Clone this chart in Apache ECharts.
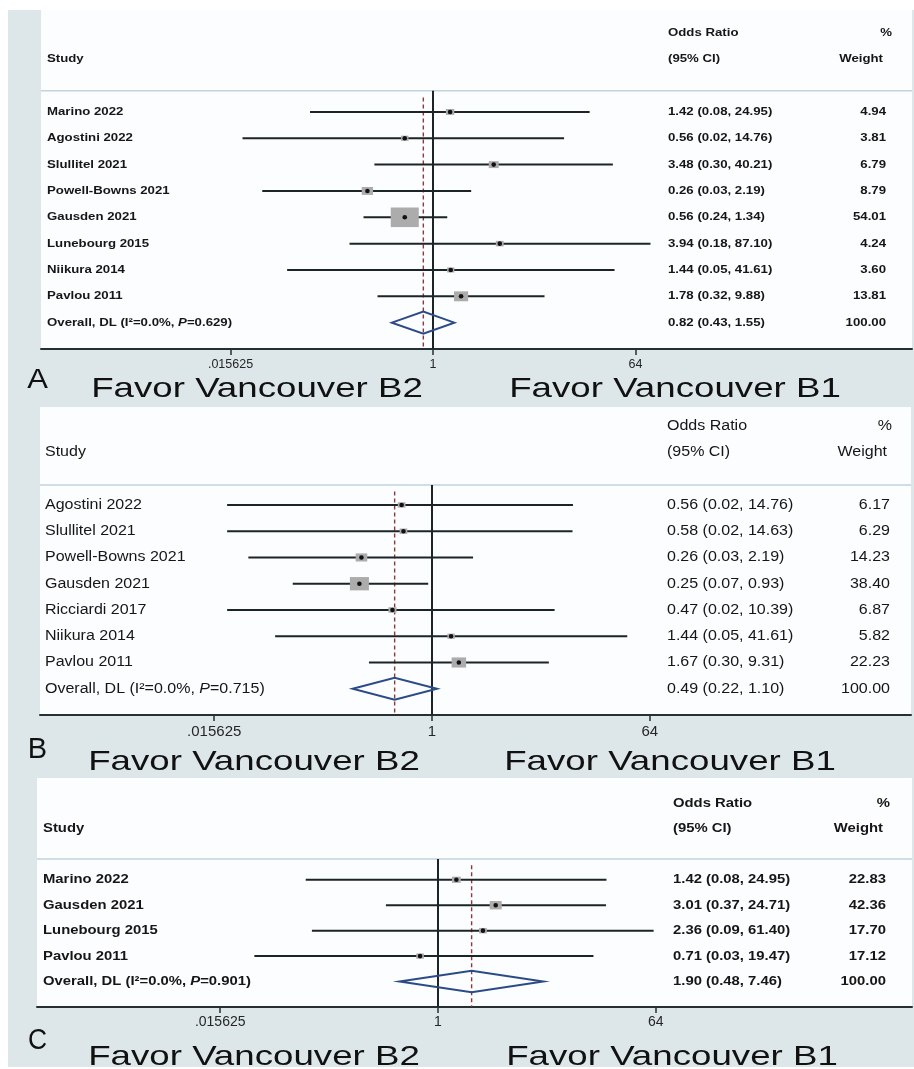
<!DOCTYPE html>
<html>
<head>
<meta charset="utf-8">
<title>Forest plots: Vancouver B1 vs B2</title>
<script src="https://cdn.jsdelivr.net/npm/echarts@6/dist/echarts.min.js"></script>
<style>
  html, body { margin: 0; padding: 0; background: #ffffff; }
  #chart { width: 914px; height: 1069px; }
</style>
</head>
<body>
<div id="chart"></div>
<script>
// ---------- Panel A ----------
const A_STUDIES = ['Marino 2022', 'Agostini 2022', 'Slullitel 2021', 'Powell-Bowns 2021',
                   'Gausden 2021', 'Lunebourg 2015', 'Niikura 2014', 'Pavlou 2011'];
const A_OR = [1.42, 0.56, 3.48, 0.26, 0.56, 3.94, 1.44, 1.78];
const A_LO = [0.08, 0.02, 0.30, 0.03, 0.24, 0.18, 0.05, 0.32];
const A_HI = [24.95, 14.76, 40.21, 2.19, 1.34, 87.10, 41.61, 9.88];
const A_WT = [4.94, 3.81, 6.79, 8.79, 54.01, 4.24, 3.60, 13.81];
const A_POOLED = [0.82, 0.43, 1.55];          // OR, lower, upper
const A_HET = ['0.0%', '0.629'];              // I-squared, P

// ---------- Panel B ----------
const B_STUDIES = ['Agostini 2022', 'Slullitel 2021', 'Powell-Bowns 2021', 'Gausden 2021',
                   'Ricciardi 2017', 'Niikura 2014', 'Pavlou 2011'];
const B_OR = [0.56, 0.58, 0.26, 0.25, 0.47, 1.44, 1.67];
const B_LO = [0.02, 0.02, 0.03, 0.07, 0.02, 0.05, 0.30];
const B_HI = [14.76, 14.63, 2.19, 0.93, 10.39, 41.61, 9.31];
const B_WT = [6.17, 6.29, 14.23, 38.40, 6.87, 5.82, 22.23];
const B_POOLED = [0.49, 0.22, 1.10];
const B_HET = ['0.0%', '0.715'];

// ---------- Panel C ----------
const C_STUDIES = ['Marino 2022', 'Gausden 2021', 'Lunebourg 2015', 'Pavlou 2011'];
const C_OR = [1.42, 3.01, 2.36, 0.71];
const C_LO = [0.08, 0.37, 0.09, 0.03];
const C_HI = [24.95, 24.71, 61.40, 19.47];
const C_WT = [22.83, 42.36, 17.70, 17.12];
const C_POOLED = [1.90, 0.48, 7.46];
const C_HET = ['0.0%', '0.901'];

const POOLED_WEIGHT = 100;

// ---------- Shared axis / text ----------
const TICK_VALUES = [0.015625, 1, 64];
const TICK_LABELS = ['.015625', '1', '64'];
const SIDE_LABELS = ['Favor Vancouver B2', 'Favor Vancouver B1'];
const HEADERS = { study: 'Study', or1: 'Odds Ratio', or2: '(95% CI)', wt1: '%', wt2: 'Weight' };

const FONT = "'Liberation Sans', Arial, Helvetica, sans-serif";
const INK = '#161616';
const LINE = '#1b2527';

// Layout of each panel (pixels)
const LAYOUTS = [
  { letter: 'A', left: 41, top: 10, width: 871, height: 339, onePx: 433, unitPx: 33.75, yTop: -2.87, hdr: 0.2,
    fs: 11.4, fw: 'bold', sx: 1.16, labelX: 47, orX: 668, wtR: 886, pctR: 892, hdrWtR: 883, boxK: 3.81,
    tickFs: 12.5, tickMargin: 9,
    letterPos: [37.5, 381], letterFs: 27, letterSx: 1.15,
    sideY: 389, sideX: [257, 675], sideFs: 28, sideSx: 1.31 },
  { letter: 'B', left: 40, top: 407, width: 871, height: 308, onePx: 432, unitPx: 36.3, yTop: -2.73, hdr: 0.24,
    fs: 13.8, fw: 'normal', sx: 1.16, labelX: 45, orX: 667, wtR: 890, pctR: 892, hdrWtR: 887, boxK: 3.07,
    tickFs: 15, tickMargin: 9,
    letterPos: [37.5, 750], letterFs: 29, letterSx: 1.0,
    sideY: 762, sideX: [254, 670], sideFs: 28, sideSx: 1.31 },
  { letter: 'C', left: 37, top: 778, width: 875, height: 229, onePx: 438, unitPx: 36.3, yTop: -3.0, hdr: 0.18,
    fs: 12.8, fw: 'bold', sx: 1.16, labelX: 43, orX: 673, wtR: 886, pctR: 890, hdrWtR: 883, boxK: 1.84,
    tickFs: 14, tickMargin: 8,
    letterPos: [37.5, 1041], letterFs: 30, letterSx: 0.88,
    sideY: 1057, sideX: [254, 672], sideFs: 28, sideSx: 1.31 }
];

const PANELS = [
  { studies: A_STUDIES, or: A_OR, lo: A_LO, hi: A_HI, wt: A_WT, pooled: A_POOLED, het: A_HET },
  { studies: B_STUDIES, or: B_OR, lo: B_LO, hi: B_HI, wt: B_WT, pooled: B_POOLED, het: B_HET },
  { studies: C_STUDIES, or: C_OR, lo: C_LO, hi: C_HI, wt: C_WT, pooled: C_POOLED, het: C_HET }
];

const f2 = v => v.toFixed(2);
const ciText = (o, l, h) => `${f2(o)} (${f2(l)}, ${f2(h)})`;

function txt(L, x, y, s, align, extra) {
  return {
    type: 'text', x: x, y: y, scaleX: L.sx, silent: true,
    style: Object.assign({
      text: s, x: 0, y: 0, fontSize: L.fs, fontWeight: L.fw, fontFamily: FONT, fill: INK,
      align: align || 'left', verticalAlign: 'middle'
    }, extra || {})
  };
}

const grids = [], xAxes = [], yAxes = [], series = [], graphics = [];

// Blue-grey page backdrop
graphics.push({ type: 'rect', shape: { x: 8, y: 10, width: 906, height: 1057 }, style: { fill: '#dde7ea' }, z: -10 });

PANELS.forEach((P, k) => {
  const L = LAYOUTS[k];
  const n = P.studies.length;
  const yBottom = n + 2;
  const xMin = (L.left - L.onePx) / L.unitPx;
  const xMax = (L.left + L.width - L.onePx) / L.unitPx;
  const tickPos = TICK_VALUES.map(Math.log2);

  grids.push({ left: L.left, top: L.top, width: L.width, height: L.height,
               show: true, backgroundColor: '#fcfdfe', borderWidth: 0 });

  xAxes.push({
    gridIndex: k, type: 'value', min: xMin, max: xMax, position: 'bottom',
    axisLine: { show: true, onZero: false, lineStyle: { color: '#263032', width: 2 } },
    axisTick: { show: true, customValues: tickPos, length: 6, lineStyle: { color: '#263032', width: 1.5 } },
    axisLabel: {
      show: true, customValues: tickPos, margin: L.tickMargin,
      fontSize: L.tickFs, fontFamily: FONT, color: '#262626',
      formatter: v => {
        const j = tickPos.findIndex(t => Math.abs(t - v) < 1e-6);
        return j >= 0 ? TICK_LABELS[j] : '';
      }
    },
    splitLine: { show: false }
  });

  yAxes.push({ gridIndex: k, type: 'value', inverse: true, min: L.yTop, max: yBottom, show: false });

  // Column headers
  series.push({
    type: 'custom', xAxisIndex: k, yAxisIndex: k, silent: true, animation: false,
    data: [[0, -1]],
    renderItem: (params, api) => {
      const y1 = api.coord([0, -2])[1];
      const y2 = api.coord([0, -1])[1];
      return { type: 'group', children: [
        txt(L, L.labelX, y2, HEADERS.study),
        txt(L, L.orX, y1, HEADERS.or1),
        txt(L, L.orX, y2, HEADERS.or2),
        txt(L, L.pctR, y1, HEADERS.wt1, 'right'),
        txt(L, L.hdrWtR, y2, HEADERS.wt2, 'right')
      ]};
    }
  });

  // Reference lines: header rule, line of no effect, pooled estimate
  series.push({
    type: 'custom', xAxisIndex: k, yAxisIndex: k, silent: true, animation: false,
    data: [[0, L.hdr]],
    renderItem: (params, api) => {
      const cs = params.coordSys;
      const hy = api.coord([0, L.hdr])[1];
      const nullTop = api.coord([0, L.hdr]);
      const nullBot = api.coord([0, yBottom]);
      const pTop = api.coord([Math.log2(P.pooled[0]), L.hdr + 0.25]);
      const pBot = api.coord([Math.log2(P.pooled[0]), yBottom]);
      return { type: 'group', children: [
        { type: 'line', shape: { x1: cs.x, y1: hy, x2: cs.x + cs.width, y2: hy },
          style: { stroke: '#c3d2db', lineWidth: 1.5 } },
        { type: 'line', shape: { x1: nullTop[0], y1: nullTop[1], x2: nullBot[0], y2: nullBot[1] },
          style: { stroke: LINE, lineWidth: 2 } },
        { type: 'line', shape: { x1: pTop[0], y1: pTop[1], x2: pBot[0], y2: pBot[1] },
          style: { stroke: '#8a3a3a', lineWidth: 1.4, lineDash: [4, 3] } }
      ]};
    }
  });

  // Individual studies: CI line, weight box, point, text columns
  series.push({
    type: 'custom', xAxisIndex: k, yAxisIndex: k, silent: true, animation: false,
    data: P.studies.map((s, i) => [Math.log2(P.or[i]), i + 1]),
    renderItem: (params, api) => {
      const i = params.dataIndex;
      const row = i + 1;
      const c = api.coord([Math.log2(P.or[i]), row]);
      const l = api.coord([Math.log2(P.lo[i]), row]);
      const h = api.coord([Math.log2(P.hi[i]), row]);
      const bw = L.boxK * Math.sqrt(P.wt[i]);
      const bh = bw * 0.7;
      return { type: 'group', children: [
        { type: 'line', shape: { x1: l[0], y1: l[1], x2: h[0], y2: h[1] },
          style: { stroke: LINE, lineWidth: 2 } },
        { type: 'rect', shape: { x: c[0] - bw / 2, y: c[1] - bh / 2, width: bw, height: bh },
          style: { fill: '#acacac' } },
        { type: 'circle', shape: { cx: c[0], cy: c[1], r: 2.3 }, style: { fill: '#111111' } },
        txt(L, L.labelX, c[1], P.studies[i]),
        txt(L, L.orX, c[1], ciText(P.or[i], P.lo[i], P.hi[i])),
        txt(L, L.wtR, c[1], f2(P.wt[i]), 'right')
      ]};
    }
  });

  // Pooled estimate: diamond and text
  series.push({
    type: 'custom', xAxisIndex: k, yAxisIndex: k, silent: true, animation: false,
    data: [[Math.log2(P.pooled[0]), n + 1]],
    renderItem: (params, api) => {
      const row = n + 1;
      const half = 0.42;
      const pL = api.coord([Math.log2(P.pooled[1]), row]);
      const pT = api.coord([Math.log2(P.pooled[0]), row - half]);
      const pR = api.coord([Math.log2(P.pooled[2]), row]);
      const pB = api.coord([Math.log2(P.pooled[0]), row + half]);
      const label = `Overall, DL (I\u00B2=${P.het[0]}, {it|P}=${P.het[1]})`;
      return { type: 'group', children: [
        { type: 'polygon', shape: { points: [pL, pT, pR, pB] },
          style: { fill: 'none', stroke: '#2b4b86', lineWidth: 2 } },
        txt(L, L.labelX, pL[1], label, 'left', {
          rich: { it: { fontStyle: 'italic', fontWeight: L.fw, fontSize: L.fs, fontFamily: FONT, fill: INK } }
        }),
        txt(L, L.orX, pL[1], ciText(P.pooled[0], P.pooled[1], P.pooled[2])),
        txt(L, L.wtR, pL[1], f2(POOLED_WEIGHT), 'right')
      ]};
    }
  });

  // Panel letter and direction captions under the axis
  graphics.push({
    type: 'text', x: L.letterPos[0], y: L.letterPos[1], scaleX: L.letterSx, silent: true,
    style: { text: L.letter, x: 0, y: 0, fontSize: L.letterFs, fontFamily: FONT, fill: '#111111',
             align: 'center', verticalAlign: 'middle' }
  });
  SIDE_LABELS.forEach((s, j) => {
    graphics.push({
      type: 'text', x: L.sideX[j], y: L.sideY, scaleX: L.sideSx, silent: true,
      style: { text: s, x: 0, y: 0, fontSize: L.sideFs, fontFamily: FONT, fill: '#111111',
               align: 'center', verticalAlign: 'middle' }
    });
  });
});

const chart = echarts.init(document.getElementById('chart'), null, { renderer: 'canvas' });
chart.setOption({
  animation: false,
  backgroundColor: '#ffffff',
  grid: grids,
  xAxis: xAxes,
  yAxis: yAxes,
  series: series,
  graphic: { elements: graphics }
});
</script>
</body>
</html>
